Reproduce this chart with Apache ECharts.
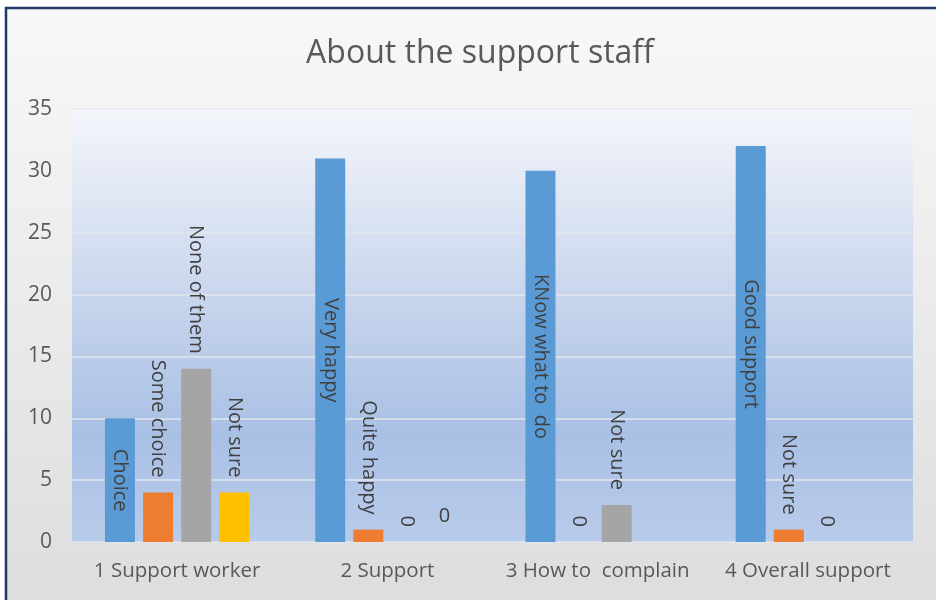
<!DOCTYPE html>
<html>
<head>
<meta charset="utf-8">
<script src="https://cdn.jsdelivr.net/npm/echarts@6/dist/echarts.min.js"></script>
<style>
html,body{margin:0;padding:0;background:#fff;}
#chart{width:936px;height:600px;}
</style>
</head>
<body>
<div id="chart"></div>
<script>
var categories = ['1 Support worker', '2 Support', '3 How to  complain', '4 Overall support'];
var seriesColors = ['#5b9bd5', '#ed7d31', '#a5a5a5', '#ffc000'];
var blueValues = [10, 31, 30, 32];
var orangeValues = [4, 1, 0, 1];
var grayValues = [14, 0, 3, 0];
var yellowValues = [4, 0, null, null];
var blueLabels = ['Choice', 'Very happy', 'KNow what to  do', 'Good support'];
var orangeLabels = ['Some choice', 'Quite happy', '0', 'Not sure'];
var grayLabels = ['None of them', '0', 'Not sure', '0'];
var yellowLabels = ['Not sure', '0', '', ''];
var yTicks = [0, 5, 10, 15, 20, 25, 30, 35];

var FONT = 'Open Sans';
var labelColor = '#404040';
var LS = 20;

function buildData(values, labels, inside, uprightIdx) {
  return values.map(function (v, i) {
    var lab;
    if (inside) {
      lab = { show: true, position: 'inside', rotate: -90, align: 'center', verticalAlign: 'middle',
              formatter: labels[i], color: labelColor, fontSize: LS, fontFamily: FONT };
    } else if (uprightIdx === i) {
      lab = { show: true, position: 'top', rotate: 0, distance: 16,
              formatter: labels[i], color: labelColor, fontSize: LS, fontFamily: FONT };
    } else {
      lab = { show: labels[i] !== '', position: 'top', rotate: -90, align: 'right', verticalAlign: 'middle', distance: 15,
              formatter: labels[i], color: labelColor, fontSize: LS, fontFamily: FONT };
    }
    return { value: v, label: lab };
  });
}

var chart = echarts.init(document.getElementById('chart'), null, { renderer: 'canvas' });
chart.setOption({
  backgroundColor: '#ffffff',
  animation: false,
  graphic: [{
    type: 'rect', z: -100, silent: true,
    shape: { x: 6, y: 8, width: 960, height: 620 },
    style: {
      fill: new echarts.graphic.LinearGradient(0, 0, 0, 1, [
        { offset: 0, color: '#f8f8f8' }, { offset: 1, color: '#dcdcdc' }
      ]),
      stroke: '#1f3a68', lineWidth: 2.5
    }
  }],
  title: {
    text: 'About the support staff',
    left: 475, top: 33, textAlign: 'center',
    textStyle: { fontFamily: FONT, fontSize: 32, fontWeight: 'normal', color: '#595959' }
  },
  grid: {
    left: 72, right: 23, top: 109, bottom: 58, show: true, borderWidth: 0,
    backgroundColor: new echarts.graphic.LinearGradient(0, 0, 0, 1, [
      { offset: 0, color: '#f4f6fb' },
      { offset: 0.45, color: '#c6d4ec' },
      { offset: 0.75, color: '#a9c0e5' },
      { offset: 1, color: '#b9cbea' }
    ])
  },
  xAxis: {
    type: 'category', data: categories,
    axisLine: { show: false }, axisTick: { show: false },
    axisLabel: { interval: 0, hideOverlap: false, fontFamily: FONT, fontSize: 20.5, color: '#595959', margin: 19 }
  },
  yAxis: {
    type: 'value', min: 0, max: 35, interval: 5,
    axisLine: { show: false }, axisTick: { show: false },
    axisLabel: { fontFamily: FONT, fontSize: 21, color: '#595959', margin: 20,
                 formatter: function (v) { return yTicks.indexOf(v) >= 0 ? String(v) : ''; } },
    splitLine: { lineStyle: { color: '#e2e6ee', width: 1.5 } }
  },
  series: [
    { type: 'bar', barWidth: 30, barGap: '27%', itemStyle: { color: seriesColors[0] }, data: buildData(blueValues, blueLabels, true) },
    { type: 'bar', barWidth: 30, barGap: '27%', itemStyle: { color: seriesColors[1] }, data: buildData(orangeValues, orangeLabels, false) },
    { type: 'bar', barWidth: 30, barGap: '27%', itemStyle: { color: seriesColors[2] }, data: buildData(grayValues, grayLabels, false) },
    { type: 'bar', barWidth: 30, barGap: '27%', itemStyle: { color: seriesColors[3] }, data: buildData(yellowValues, yellowLabels, false, 1) }
  ]
});
</script>
</body>
</html>
